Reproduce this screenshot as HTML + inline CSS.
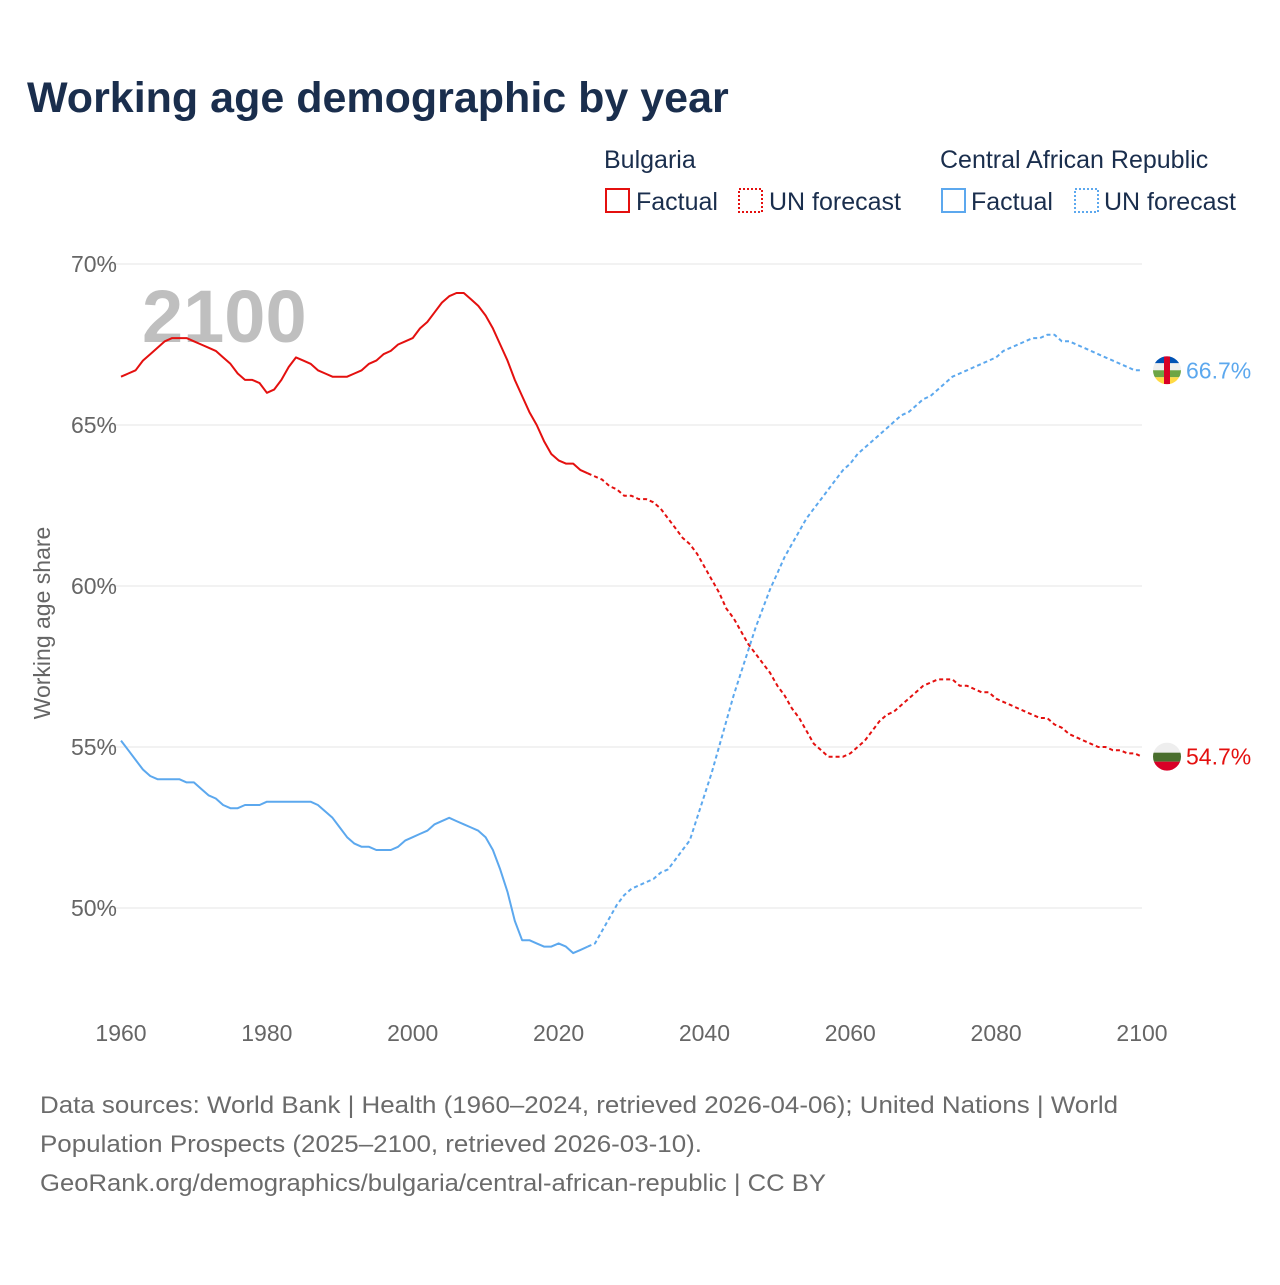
<!DOCTYPE html>
<html><head><meta charset="utf-8"><style>
body{margin:0;background:#fff;width:1280px;height:1280px;overflow:hidden;font-family:"Liberation Sans",sans-serif}
svg text{font-family:"Liberation Sans",sans-serif}
</style></head><body>
<svg id="chart" width="1280" height="1280" xmlns="http://www.w3.org/2000/svg">
<text x="27" y="112" font-size="43" font-weight="bold" fill="#1a2e4d">Working age demographic by year</text>
<g font-size="25" fill="#1a2e4d">
<text x="604" y="168">Bulgaria</text>
<text x="940" y="168">Central African Republic</text>
<g><rect x="606" y="189" width="23" height="23" fill="none" stroke="#e4100f" stroke-width="2"/><text x="636" y="210">Factual</text></g>
<g><rect x="739" y="189" width="23" height="23" fill="none" stroke="#e4100f" stroke-width="2" stroke-dasharray="2,2"/><text x="769" y="210">UN forecast</text></g>
<g><rect x="942" y="189" width="23" height="23" fill="none" stroke="#5ca8ee" stroke-width="2"/><text x="971" y="210">Factual</text></g>
<g><rect x="1075" y="189" width="23" height="23" fill="none" stroke="#5ca8ee" stroke-width="2" stroke-dasharray="2,2"/><text x="1104" y="210">UN forecast</text></g>
</g>
<text x="142" y="342" font-size="74" font-weight="bold" fill="#bfbfbf">2100</text>
<text transform="translate(50,623) rotate(-90)" text-anchor="middle" font-size="23" fill="#666">Working age share</text>
<g id="grid"></g><g id="ticks"></g><g id="series"></g><g id="ends"></g>
<g font-size="24" fill="#6b6b6b">
<text x="40" y="1113" textLength="1078" lengthAdjust="spacingAndGlyphs">Data sources: World Bank | Health (1960–2024, retrieved 2026-04-06); United Nations | World</text>
<text x="40" y="1152" textLength="662" lengthAdjust="spacingAndGlyphs">Population Prospects (2025–2100, retrieved 2026-03-10).</text>
<text x="40" y="1191" textLength="786" lengthAdjust="spacingAndGlyphs">GeoRank.org/demographics/bulgaria/central-african-republic | CC BY</text>
</g>
</svg>
<script>
const yTicks=[50,55,60,65,70];
const xTicks=[1960,1980,2000,2020,2040,2060,2080,2100];
const bgFactual=[66.5,66.6,66.7,67.0,67.2,67.4,67.6,67.7,67.7,67.7,67.6,67.5,67.4,67.3,67.1,66.9,66.6,66.4,66.4,66.3,66.0,66.1,66.4,66.8,67.1,67.0,66.9,66.7,66.6,66.5,66.5,66.5,66.6,66.7,66.9,67.0,67.2,67.3,67.5,67.6,67.7,68.0,68.2,68.5,68.8,69.0,69.1,69.1,68.9,68.7,68.4,68.0,67.5,67.0,66.4,65.9,65.4,65.0,64.5,64.1,63.9,63.8,63.8,63.6,63.5];
const bgForecast=[63.4,63.3,63.1,63.0,62.8,62.8,62.7,62.7,62.6,62.4,62.1,61.8,61.5,61.3,61.0,60.6,60.2,59.8,59.3,59.0,58.6,58.2,57.9,57.6,57.3,56.9,56.6,56.2,55.9,55.5,55.1,54.9,54.7,54.7,54.7,54.8,55.0,55.2,55.5,55.8,56.0,56.1,56.3,56.5,56.7,56.9,57.0,57.1,57.1,57.1,56.9,56.9,56.8,56.7,56.7,56.5,56.4,56.3,56.2,56.1,56.0,55.9,55.9,55.7,55.6,55.4,55.3,55.2,55.1,55.0,55.0,54.9,54.9,54.8,54.8,54.7];
const carFactual=[55.2,54.9,54.6,54.3,54.1,54.0,54.0,54.0,54.0,53.9,53.9,53.7,53.5,53.4,53.2,53.1,53.1,53.2,53.2,53.2,53.3,53.3,53.3,53.3,53.3,53.3,53.3,53.2,53.0,52.8,52.5,52.2,52.0,51.9,51.9,51.8,51.8,51.8,51.9,52.1,52.2,52.3,52.4,52.6,52.7,52.8,52.7,52.6,52.5,52.4,52.2,51.8,51.2,50.5,49.6,49.0,49.0,48.9,48.8,48.8,48.9,48.8,48.6,48.7,48.8];
const carForecast=[48.9,49.3,49.7,50.1,50.4,50.6,50.7,50.8,50.9,51.1,51.2,51.5,51.8,52.1,52.8,53.5,54.2,55.0,55.8,56.6,57.3,58.0,58.7,59.3,59.9,60.4,60.9,61.3,61.7,62.1,62.4,62.7,63.0,63.3,63.6,63.8,64.1,64.3,64.5,64.7,64.9,65.1,65.3,65.4,65.6,65.8,65.9,66.1,66.3,66.5,66.6,66.7,66.8,66.9,67.0,67.1,67.3,67.4,67.5,67.6,67.7,67.7,67.8,67.8,67.6,67.6,67.5,67.4,67.3,67.2,67.1,67.0,66.9,66.8,66.7,66.7];
const NS="http://www.w3.org/2000/svg";
const X=yr=>121+(yr-1960)*(1021/140);
const Y=v=>908-(v-50)*32.2;
function mk(tag,attrs,parent){const e=document.createElementNS(NS,tag);for(const k in attrs)e.setAttribute(k,attrs[k]);document.getElementById(parent).appendChild(e);return e;}
yTicks.forEach(t=>{
 const l=mk('line',{x1:95,x2:1142,y1:Y(t),y2:Y(t),stroke:'#e6e6e6','stroke-width':1},'grid');
 
 
 const tx=mk('text',{x:117,y:Y(t)+8,'text-anchor':'end','font-size':23,fill:'#666'},'ticks');
 tx.textContent=t+'%';
 
 
});
xTicks.forEach(t=>{
 const tx=mk('text',{x:X(t),y:1041,'text-anchor':'middle','font-size':23,fill:'#666'},'ticks');
 tx.textContent=t;
 
 
});
function line(arr,start,color,dash,name,prev){
 let pts=arr.map((v,i)=>X(start+i).toFixed(1)+','+Y(v).toFixed(1));
 if(prev!=null)pts.unshift(X(start-1).toFixed(1)+','+Y(prev).toFixed(1));
 const p=mk('polyline',{points:pts.join(' '),fill:'none',stroke:color,'stroke-width':2,'stroke-dasharray':dash,'stroke-linejoin':'round'},'series');
 
 
}
line(bgFactual,1960,'#e4100f','none','bulgaria-factual-line',null);
line(bgForecast,2025,'#e4100f','4,3','bulgaria-forecast-line',bgFactual[bgFactual.length-1]);
line(carFactual,1960,'#5ca8ee','none','car-factual-line',null);
line(carForecast,2025,'#5ca8ee','4,3','car-forecast-line',carFactual[carFactual.length-1]);
function flagEnd(v,color,kind,name){
 const cy=Y(v),cx=1167;
 const g=mk('g',{},'ends');
 
 
 const id='c'+kind;
 const cp=document.createElementNS(NS,'clipPath');cp.setAttribute('id',id);
 const c=document.createElementNS(NS,'circle');c.setAttribute('cx',cx);c.setAttribute('cy',cy);c.setAttribute('r',14);cp.appendChild(c);g.appendChild(cp);
 const add=(tag,a)=>{const e=document.createElementNS(NS,tag);for(const k in a)e.setAttribute(k,a[k]);g.appendChild(e);return e;};
 if(kind==='bg'){
  add('rect',{x:cx-14,y:cy-14,width:28,height:10,fill:'#eee','clip-path':`url(#${id})`});
  add('rect',{x:cx-14,y:cy-4,width:28,height:9,fill:'#496e2d','clip-path':`url(#${id})`});
  add('rect',{x:cx-14,y:cy+5,width:28,height:10,fill:'#d80027','clip-path':`url(#${id})`});
 }else{
  const cols=['#0052b4','#eee','#6da544','#ffda44'];
  cols.forEach((col,i)=>add('rect',{x:cx-14,y:cy-14+i*7,width:28,height:7,fill:col,'clip-path':`url(#${id})`}));
  add('rect',{x:cx-3,y:cy-14,width:6,height:28,fill:'#d80027','clip-path':`url(#${id})`});
 }
 const t=add('text',{x:1186,y:cy+8,'font-size':23,fill:color});
 t.textContent=v.toFixed(1)+'%';
}
flagEnd(bgForecast[bgForecast.length-1],'#e4100f','bg','bulgaria-end-label');
flagEnd(carForecast[carForecast.length-1],'#5ca8ee','car','car-end-label');
</script>
</body></html>
